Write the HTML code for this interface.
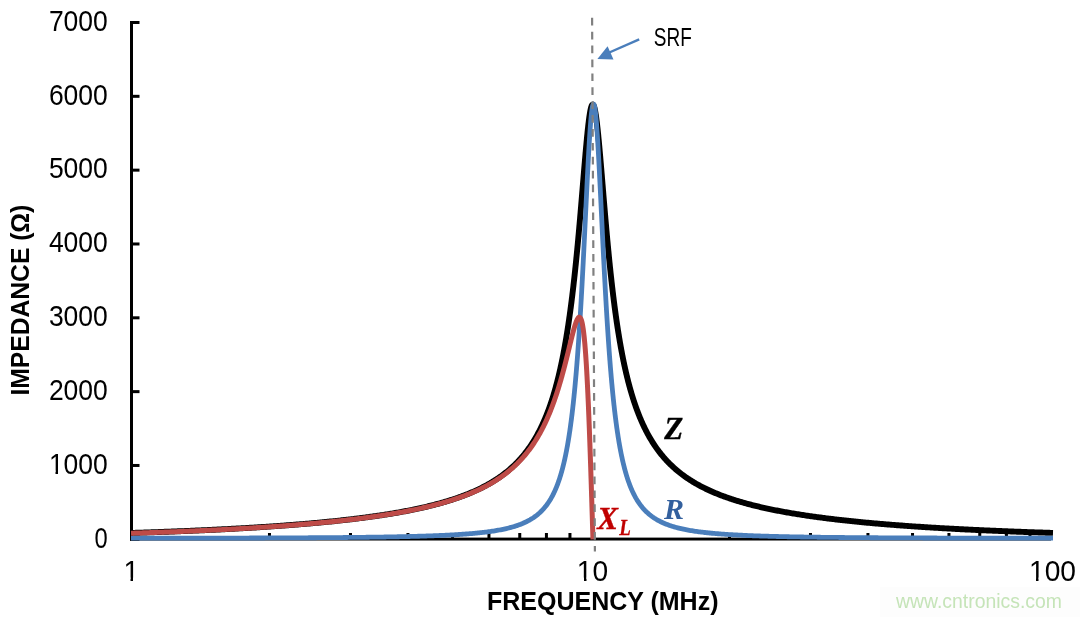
<!DOCTYPE html>
<html><head><meta charset="utf-8"><style>
html,body{margin:0;padding:0;background:#fff;width:1080px;height:617px;overflow:hidden}
svg{display:block}
.num{font-family:"Liberation Sans",sans-serif;font-size:29.5px;fill:#000}
.ttl{font-family:"Liberation Sans",sans-serif;font-size:25px;font-weight:bold;fill:#000}
.lbl{font-family:"Liberation Serif",serif;font-weight:bold;font-style:italic}
</style></head><body>
<svg width="1080" height="617" viewBox="0 0 1080 617" style="will-change:transform">
<rect x="0" y="0" width="1080" height="617" fill="#fff"/>
<rect x="880" y="587" width="200" height="30" fill="#fdfdfd"/>
<text x="896" y="607.5" style="font-family:'Liberation Sans',sans-serif;font-size:19.4px;fill:#c5e4b8">www.cntronics.com</text>
<rect x="130" y="21" width="3" height="519" fill="#000"/>
<rect x="130" y="537.6" width="921" height="2.9" fill="#000"/>
<rect x="130" y="537.80" width="9.5" height="3" fill="#000"/>
<text x="94.60" y="547.60" textLength="13.2" lengthAdjust="spacingAndGlyphs" class="num">0</text>
<rect x="130" y="463.97" width="9.5" height="3" fill="#000"/>
<text x="48.90" y="473.77" textLength="58.9" lengthAdjust="spacingAndGlyphs" class="num">1000</text>
<rect x="130" y="390.14" width="9.5" height="3" fill="#000"/>
<text x="48.90" y="399.94" textLength="58.9" lengthAdjust="spacingAndGlyphs" class="num">2000</text>
<rect x="130" y="316.31" width="9.5" height="3" fill="#000"/>
<text x="48.90" y="326.11" textLength="58.9" lengthAdjust="spacingAndGlyphs" class="num">3000</text>
<rect x="130" y="242.48" width="9.5" height="3" fill="#000"/>
<text x="48.90" y="252.28" textLength="58.9" lengthAdjust="spacingAndGlyphs" class="num">4000</text>
<rect x="130" y="168.65" width="9.5" height="3" fill="#000"/>
<text x="48.90" y="178.45" textLength="58.9" lengthAdjust="spacingAndGlyphs" class="num">5000</text>
<rect x="130" y="94.82" width="9.5" height="3" fill="#000"/>
<text x="48.90" y="104.62" textLength="58.9" lengthAdjust="spacingAndGlyphs" class="num">6000</text>
<rect x="130" y="20.99" width="9.5" height="3" fill="#000"/>
<text x="48.90" y="30.79" textLength="58.9" lengthAdjust="spacingAndGlyphs" class="num">7000</text>
<rect x="267.97" y="533" width="3" height="7" fill="#000"/>
<rect x="348.98" y="533" width="3" height="7" fill="#000"/>
<rect x="406.45" y="533" width="3" height="7" fill="#000"/>
<rect x="451.03" y="533" width="3" height="7" fill="#000"/>
<rect x="487.45" y="533" width="3" height="7" fill="#000"/>
<rect x="518.25" y="533" width="3" height="7" fill="#000"/>
<rect x="544.92" y="533" width="3" height="7" fill="#000"/>
<rect x="568.45" y="533" width="3" height="7" fill="#000"/>
<rect x="727.97" y="533" width="3" height="7" fill="#000"/>
<rect x="808.98" y="533" width="3" height="7" fill="#000"/>
<rect x="866.45" y="533" width="3" height="7" fill="#000"/>
<rect x="911.03" y="533" width="3" height="7" fill="#000"/>
<rect x="947.45" y="533" width="3" height="7" fill="#000"/>
<rect x="978.25" y="533" width="3" height="7" fill="#000"/>
<rect x="1004.92" y="533" width="3" height="7" fill="#000"/>
<rect x="1028.45" y="533" width="3" height="7" fill="#000"/>

<path d="M131.00,532.96 L132.20,532.92 L133.40,532.88 L134.60,532.85 L135.80,532.81 L137.00,532.77 L138.20,532.73 L139.40,532.69 L140.60,532.65 L141.80,532.62 L143.00,532.58 L144.20,532.54 L145.40,532.50 L146.61,532.46 L147.81,532.42 L149.01,532.38 L150.21,532.34 L151.41,532.29 L152.61,532.25 L153.81,532.21 L155.01,532.17 L156.21,532.13 L157.41,532.08 L158.61,532.04 L159.81,532.00 L161.01,531.96 L162.21,531.91 L163.41,531.87 L164.61,531.82 L165.81,531.78 L167.01,531.73 L168.21,531.69 L169.41,531.64 L170.61,531.60 L171.81,531.55 L173.01,531.51 L174.21,531.46 L175.41,531.41 L176.61,531.37 L177.81,531.32 L179.01,531.27 L180.21,531.22 L181.41,531.17 L182.61,531.13 L183.81,531.08 L185.01,531.03 L186.21,530.98 L187.41,530.93 L188.61,530.88 L189.81,530.83 L191.01,530.78 L192.21,530.72 L193.41,530.67 L194.61,530.62 L195.81,530.57 L197.01,530.52 L198.21,530.46 L199.41,530.41 L200.61,530.35 L201.81,530.30 L203.01,530.25 L204.21,530.19 L205.41,530.14 L206.61,530.08 L207.81,530.02 L209.01,529.97 L210.21,529.91 L211.41,529.85 L212.61,529.80 L213.81,529.74 L215.01,529.68 L216.21,529.62 L217.40,529.56 L218.60,529.50 L219.80,529.44 L221.00,529.38 L222.20,529.32 L223.40,529.26 L224.60,529.20 L225.80,529.14 L227.00,529.07 L228.20,529.01 L229.40,528.95 L230.60,528.88 L231.80,528.82 L233.00,528.75 L234.20,528.69 L235.40,528.62 L236.59,528.56 L237.79,528.49 L238.99,528.42 L240.19,528.36 L241.39,528.29 L242.59,528.22 L243.79,528.15 L244.99,528.08 L246.19,528.01 L247.39,527.94 L248.59,527.87 L249.78,527.80 L250.98,527.73 L252.18,527.66 L253.38,527.58 L254.58,527.51 L255.78,527.44 L256.98,527.36 L258.18,527.29 L259.37,527.21 L260.57,527.13 L261.77,527.06 L262.97,526.98 L264.17,526.90 L265.37,526.82 L266.56,526.74 L267.76,526.67 L268.96,526.58 L270.16,526.50 L271.36,526.42 L272.56,526.34 L273.75,526.26 L274.95,526.17 L276.15,526.09 L277.35,526.01 L278.55,525.92 L279.74,525.84 L280.94,525.75 L282.14,525.66 L283.34,525.57 L284.54,525.49 L285.73,525.40 L286.93,525.31 L288.13,525.22 L289.33,525.13 L290.52,525.03 L291.72,524.94 L292.92,524.85 L294.12,524.75 L295.31,524.66 L296.51,524.56 L297.71,524.47 L298.90,524.37 L300.10,524.27 L301.30,524.18 L302.50,524.08 L303.69,523.98 L304.89,523.88 L306.09,523.77 L307.28,523.67 L308.48,523.57 L309.68,523.46 L310.87,523.36 L312.07,523.25 L313.26,523.15 L314.46,523.04 L315.66,522.93 L316.85,522.82 L318.05,522.71 L319.25,522.60 L320.44,522.49 L321.64,522.37 L322.83,522.26 L324.03,522.15 L325.22,522.03 L326.42,521.91 L327.61,521.80 L328.81,521.68 L330.00,521.56 L331.20,521.44 L332.39,521.31 L333.59,521.19 L334.78,521.07 L335.98,520.94 L337.17,520.82 L338.37,520.69 L339.56,520.56 L340.75,520.43 L341.95,520.30 L343.14,520.17 L344.34,520.03 L345.53,519.90 L346.72,519.77 L347.92,519.63 L349.11,519.49 L350.30,519.35 L351.49,519.21 L352.69,519.07 L353.88,518.93 L355.07,518.78 L356.26,518.64 L357.46,518.49 L358.65,518.34 L359.84,518.19 L361.03,518.04 L362.22,517.89 L363.41,517.73 L364.60,517.58 L365.79,517.42 L366.98,517.26 L368.18,517.10 L369.37,516.94 L370.56,516.78 L371.74,516.61 L372.93,516.45 L374.12,516.28 L375.31,516.11 L376.50,515.94 L377.69,515.76 L378.88,515.59 L380.07,515.41 L381.25,515.23 L382.44,515.05 L383.63,514.87 L384.81,514.69 L386.00,514.50 L387.19,514.31 L388.37,514.12 L389.56,513.93 L390.74,513.74 L391.93,513.54 L393.11,513.34 L394.30,513.14 L395.48,512.94 L396.67,512.74 L397.85,512.53 L399.03,512.32 L400.21,512.11 L401.39,511.90 L402.58,511.68 L403.76,511.46 L404.94,511.24 L406.12,511.02 L407.30,510.79 L408.48,510.56 L409.66,510.33 L410.83,510.10 L412.01,509.86 L413.19,509.62 L414.36,509.38 L415.54,509.13 L416.71,508.89 L417.89,508.64 L419.06,508.38 L420.24,508.13 L421.41,507.87 L422.58,507.60 L423.75,507.34 L424.92,507.07 L426.09,506.79 L427.26,506.52 L428.43,506.24 L429.60,505.95 L430.76,505.67 L431.93,505.38 L433.09,505.08 L434.26,504.78 L435.42,504.48 L436.58,504.18 L437.74,503.87 L438.90,503.55 L440.06,503.24 L441.21,502.91 L442.37,502.59 L443.52,502.26 L444.68,501.92 L445.83,501.58 L446.98,501.24 L448.13,500.89 L449.28,500.54 L450.42,500.18 L451.57,499.82 L452.71,499.45 L453.85,499.07 L454.99,498.70 L456.13,498.31 L457.27,497.92 L458.40,497.53 L459.53,497.13 L460.66,496.72 L461.79,496.31 L462.92,495.89 L464.04,495.47 L465.16,495.04 L466.28,494.60 L467.40,494.16 L468.51,493.71 L469.63,493.26 L470.73,492.80 L471.84,492.33 L472.94,491.85 L474.04,491.37 L475.14,490.88 L476.23,490.38 L477.32,489.88 L478.41,489.37 L479.49,488.85 L480.57,488.33 L481.65,487.79 L482.72,487.25 L483.79,486.70 L484.85,486.14 L485.91,485.58 L486.97,485.01 L488.02,484.42 L489.07,483.83 L490.11,483.23 L491.14,482.63 L492.17,482.01 L493.20,481.39 L494.22,480.75 L495.23,480.11 L496.24,479.46 L497.25,478.80 L498.24,478.13 L499.23,477.45 L500.22,476.76 L501.20,476.07 L502.17,475.36 L503.13,474.64 L504.09,473.92 L505.04,473.19 L505.99,472.44 L506.92,471.69 L507.85,470.93 L508.77,470.16 L509.68,469.38 L510.59,468.59 L511.49,467.79 L512.37,466.98 L513.26,466.16 L514.13,465.34 L514.99,464.50 L515.85,463.66 L516.69,462.81 L517.53,461.95 L518.36,461.08 L519.18,460.20 L519.99,459.31 L520.79,458.42 L521.58,457.52 L522.36,456.60 L523.14,455.69 L523.90,454.76 L524.66,453.83 L525.40,452.88 L526.14,451.94 L526.87,450.98 L527.59,450.02 L528.29,449.05 L528.99,448.07 L529.68,447.09 L530.36,446.10 L531.04,445.10 L531.70,444.10 L532.35,443.09 L533.00,442.08 L533.63,441.06 L534.26,440.04 L534.88,439.01 L535.49,437.97 L536.09,436.93 L536.68,435.89 L537.26,434.84 L537.84,433.78 L538.41,432.73 L538.96,431.66 L539.52,430.60 L540.06,429.52 L540.59,428.45 L541.12,427.37 L541.64,426.29 L542.15,425.20 L542.66,424.11 L543.15,423.02 L543.64,421.92 L544.13,420.82 L544.60,419.72 L545.07,418.61 L545.54,417.51 L545.99,416.39 L546.44,415.28 L546.88,414.16 L547.32,413.04 L547.75,411.92 L548.17,410.80 L548.59,409.67 L549.01,408.55 L549.41,407.42 L549.81,406.28 L550.21,405.15 L550.60,404.01 L550.98,402.88 L551.36,401.74 L551.74,400.60 L552.10,399.45 L552.47,398.31 L552.83,397.16 L553.18,396.01 L553.53,394.86 L553.87,393.71 L554.21,392.56 L554.55,391.41 L554.88,390.25 L555.21,389.10 L555.53,387.94 L555.85,386.78 L556.16,385.62 L556.47,384.46 L556.78,383.30 L557.08,382.14 L557.38,380.98 L557.68,379.81 L557.97,378.65 L558.26,377.48 L558.54,376.32 L558.82,375.15 L559.10,373.98 L559.37,372.81 L559.64,371.64 L559.91,370.47 L560.18,369.30 L560.44,368.13 L560.70,366.95 L560.95,365.78 L561.20,364.61 L561.45,363.43 L561.70,362.25 L561.94,361.08 L562.18,359.90 L562.42,358.73 L562.66,357.55 L562.89,356.37 L563.12,355.19 L563.35,354.01 L563.58,352.83 L563.80,351.65 L564.02,350.47 L564.24,349.29 L564.46,348.11 L564.67,346.93 L564.88,345.75 L565.09,344.56 L565.30,343.38 L565.51,342.20 L565.71,341.01 L565.91,339.83 L566.11,338.65 L566.31,337.46 L566.51,336.28 L566.70,335.09 L566.89,333.90 L567.08,332.72 L567.27,331.53 L567.46,330.35 L567.64,329.16 L567.83,327.97 L568.01,326.79 L568.19,325.60 L568.37,324.41 L568.54,323.22 L568.72,322.03 L568.89,320.85 L569.06,319.66 L569.23,318.47 L569.40,317.28 L569.57,316.09 L569.74,314.90 L569.90,313.71 L570.07,312.52 L570.23,311.33 L570.39,310.14 L570.55,308.95 L570.71,307.76 L570.86,306.57 L571.02,305.38 L571.17,304.19 L571.33,303.00 L571.48,301.80 L571.63,300.61 L571.78,299.42 L571.93,298.23 L572.08,297.04 L572.22,295.85 L572.37,294.65 L572.51,293.46 L572.65,292.27 L572.80,291.08 L572.94,289.88 L573.08,288.69 L573.22,287.50 L573.36,286.31 L573.49,285.11 L573.63,283.92 L573.76,282.73 L573.90,281.53 L574.03,280.34 L574.17,279.14 L574.30,277.95 L574.43,276.76 L574.56,275.56 L574.69,274.37 L574.82,273.18 L574.95,271.98 L575.07,270.79 L575.20,269.59 L575.32,268.40 L575.45,267.20 L575.57,266.01 L575.70,264.81 L575.82,263.62 L575.94,262.42 L576.06,261.23 L576.18,260.03 L576.30,258.84 L576.42,257.64 L576.54,256.45 L576.66,255.25 L576.78,254.06 L576.89,252.86 L577.01,251.67 L577.13,250.47 L577.24,249.28 L577.36,248.08 L577.47,246.89 L577.58,245.69 L577.70,244.50 L577.81,243.30 L577.92,242.10 L578.03,240.91 L578.14,239.71 L578.25,238.52 L578.36,237.32 L578.47,236.12 L578.58,234.93 L578.69,233.73 L578.80,232.54 L578.91,231.34 L579.01,230.14 L579.12,228.95 L579.23,227.75 L579.33,226.55 L579.44,225.36 L579.55,224.16 L579.65,222.97 L579.76,221.77 L579.86,220.57 L579.96,219.38 L580.07,218.18 L580.17,216.98 L580.27,215.79 L580.38,214.59 L580.48,213.39 L580.58,212.20 L580.68,211.00 L580.79,209.80 L580.89,208.61 L580.99,207.41 L581.09,206.21 L581.19,205.02 L581.29,203.82 L581.39,202.62 L581.49,201.43 L581.59,200.23 L581.69,199.03 L581.79,197.84 L581.89,196.64 L581.99,195.44 L582.09,194.25 L582.19,193.05 L582.29,191.85 L582.39,190.65 L582.49,189.46 L582.59,188.26 L582.69,187.06 L582.79,185.87 L582.89,184.67 L582.99,183.47 L583.09,182.28 L583.19,181.08 L583.29,179.88 L583.38,178.69 L583.48,177.49 L583.58,176.29 L583.68,175.09 L583.78,173.90 L583.88,172.70 L583.98,171.50 L584.08,170.31 L584.18,169.11 L584.28,167.91 L584.38,166.72 L584.49,165.52 L584.59,164.32 L584.69,163.13 L584.79,161.93 L584.89,160.73 L584.99,159.54 L585.10,158.34 L585.20,157.14 L585.30,155.95 L585.41,154.75 L585.51,153.55 L585.62,152.36 L585.73,151.16 L585.83,149.97 L585.94,148.77 L586.05,147.57 L586.16,146.38 L586.27,145.18 L586.38,143.98 L586.49,142.79 L586.60,141.59 L586.71,140.40 L586.83,139.20 L586.94,138.01 L587.06,136.81 L587.18,135.62 L587.30,134.42 L587.42,133.23 L587.54,132.03 L587.67,130.84 L587.80,129.64 L587.92,128.45 L588.06,127.26 L588.19,126.06 L588.33,124.87 L588.47,123.68 L588.61,122.48 L588.76,121.29 L588.91,120.10 L589.07,118.91 L589.23,117.72 L589.40,116.53 L589.57,115.34 L589.76,114.16 L589.95,112.97 L590.16,111.79 L590.38,110.61 L590.62,109.43 L590.90,108.26 L591.21,107.10 L591.59,105.96 L592.14,104.90 L593.15,104.71 L593.77,105.72 L594.18,106.85 L594.50,108.01 L594.78,109.18 L595.03,110.35 L595.25,111.53 L595.46,112.71 L595.66,113.90 L595.85,115.09 L596.03,116.27 L596.20,117.46 L596.36,118.65 L596.52,119.84 L596.67,121.03 L596.82,122.23 L596.96,123.42 L597.10,124.61 L597.24,125.80 L597.38,127.00 L597.51,128.19 L597.64,129.38 L597.76,130.58 L597.89,131.77 L598.01,132.97 L598.14,134.16 L598.26,135.36 L598.37,136.55 L598.49,137.75 L598.61,138.94 L598.72,140.14 L598.84,141.33 L598.95,142.53 L599.06,143.73 L599.17,144.92 L599.28,146.12 L599.39,147.31 L599.50,148.51 L599.61,149.71 L599.71,150.90 L599.82,152.10 L599.92,153.30 L600.03,154.49 L600.13,155.69 L600.24,156.88 L600.34,158.08 L600.44,159.28 L600.55,160.47 L600.65,161.67 L600.75,162.87 L600.85,164.06 L600.95,165.26 L601.05,166.46 L601.15,167.65 L601.26,168.85 L601.36,170.05 L601.46,171.25 L601.56,172.44 L601.66,173.64 L601.76,174.84 L601.86,176.03 L601.95,177.23 L602.05,178.43 L602.15,179.62 L602.25,180.82 L602.35,182.02 L602.45,183.21 L602.55,184.41 L602.65,185.61 L602.75,186.80 L602.85,188.00 L602.95,189.20 L603.05,190.40 L603.15,191.59 L603.25,192.79 L603.34,193.99 L603.44,195.18 L603.54,196.38 L603.64,197.58 L603.74,198.77 L603.84,199.97 L603.94,201.17 L604.04,202.36 L604.15,203.56 L604.25,204.76 L604.35,205.95 L604.45,207.15 L604.55,208.35 L604.65,209.54 L604.75,210.74 L604.86,211.94 L604.96,213.13 L605.06,214.33 L605.16,215.53 L605.27,216.72 L605.37,217.92 L605.47,219.12 L605.58,220.31 L605.68,221.51 L605.79,222.71 L605.89,223.90 L606.00,225.10 L606.10,226.30 L606.21,227.49 L606.32,228.69 L606.42,229.88 L606.53,231.08 L606.64,232.28 L606.75,233.47 L606.85,234.67 L606.96,235.87 L607.07,237.06 L607.18,238.26 L607.29,239.45 L607.40,240.65 L607.52,241.85 L607.63,243.04 L607.74,244.24 L607.85,245.43 L607.97,246.63 L608.08,247.82 L608.19,249.02 L608.31,250.21 L608.43,251.41 L608.54,252.61 L608.66,253.80 L608.78,255.00 L608.89,256.19 L609.01,257.39 L609.13,258.58 L609.25,259.78 L609.37,260.97 L609.49,262.17 L609.61,263.36 L609.74,264.56 L609.86,265.75 L609.98,266.95 L610.11,268.14 L610.23,269.33 L610.36,270.53 L610.49,271.72 L610.61,272.92 L610.74,274.11 L610.87,275.31 L611.00,276.50 L611.13,277.69 L611.27,278.89 L611.40,280.08 L611.53,281.27 L611.67,282.47 L611.80,283.66 L611.94,284.85 L612.07,286.05 L612.21,287.24 L612.35,288.43 L612.49,289.63 L612.63,290.82 L612.77,292.01 L612.92,293.20 L613.06,294.40 L613.21,295.59 L613.35,296.78 L613.50,297.97 L613.65,299.16 L613.80,300.36 L613.95,301.55 L614.10,302.74 L614.25,303.93 L614.41,305.12 L614.56,306.31 L614.72,307.50 L614.88,308.69 L615.04,309.88 L615.20,311.07 L615.36,312.26 L615.52,313.45 L615.69,314.64 L615.85,315.83 L616.02,317.02 L616.19,318.21 L616.36,319.40 L616.53,320.59 L616.70,321.78 L616.88,322.97 L617.06,324.15 L617.23,325.34 L617.41,326.53 L617.59,327.72 L617.78,328.90 L617.96,330.09 L618.15,331.28 L618.34,332.46 L618.53,333.65 L618.72,334.83 L618.91,336.02 L619.11,337.20 L619.30,338.39 L619.50,339.57 L619.70,340.76 L619.91,341.94 L620.11,343.12 L620.32,344.31 L620.53,345.49 L620.74,346.67 L620.96,347.85 L621.17,349.04 L621.39,350.22 L621.61,351.40 L621.83,352.58 L622.06,353.76 L622.29,354.94 L622.52,356.11 L622.75,357.29 L622.99,358.47 L623.22,359.65 L623.46,360.82 L623.71,362.00 L623.95,363.18 L624.20,364.35 L624.45,365.53 L624.71,366.70 L624.97,367.87 L625.23,369.04 L625.49,370.22 L625.76,371.39 L626.03,372.56 L626.30,373.73 L626.58,374.90 L626.86,376.06 L627.14,377.23 L627.43,378.40 L627.72,379.56 L628.01,380.73 L628.31,381.89 L628.61,383.05 L628.92,384.21 L629.23,385.37 L629.54,386.53 L629.86,387.69 L630.18,388.85 L630.51,390.00 L630.84,391.16 L631.17,392.31 L631.51,393.47 L631.86,394.62 L632.20,395.77 L632.56,396.91 L632.91,398.06 L633.28,399.20 L633.64,400.35 L634.02,401.49 L634.40,402.63 L634.78,403.77 L635.17,404.90 L635.56,406.04 L635.96,407.17 L636.37,408.30 L636.78,409.43 L637.19,410.56 L637.62,411.68 L638.05,412.80 L638.48,413.92 L638.92,415.04 L639.37,416.15 L639.83,417.27 L640.29,418.37 L640.75,419.48 L641.23,420.58 L641.71,421.68 L642.20,422.78 L642.69,423.87 L643.20,424.97 L643.71,426.05 L644.23,427.14 L644.75,428.22 L645.29,429.29 L645.83,430.36 L646.38,431.43 L646.93,432.50 L647.50,433.56 L648.07,434.61 L648.65,435.66 L649.24,436.71 L649.84,437.75 L650.45,438.78 L651.07,439.82 L651.69,440.84 L652.33,441.86 L652.97,442.88 L653.62,443.88 L654.28,444.89 L654.95,445.88 L655.63,446.88 L656.32,447.86 L657.01,448.84 L657.72,449.81 L658.44,450.77 L659.16,451.73 L659.90,452.68 L660.64,453.62 L661.39,454.56 L662.16,455.49 L662.93,456.41 L663.71,457.32 L664.50,458.22 L665.30,459.12 L666.11,460.01 L666.92,460.89 L667.75,461.76 L668.59,462.62 L669.43,463.48 L670.28,464.32 L671.15,465.16 L672.02,465.99 L672.89,466.81 L673.78,467.61 L674.68,468.42 L675.58,469.21 L676.49,469.99 L677.41,470.76 L678.34,471.53 L679.27,472.28 L680.21,473.03 L681.16,473.76 L682.12,474.49 L683.08,475.21 L684.05,475.91 L685.03,476.61 L686.01,477.30 L687.00,477.98 L688.00,478.65 L689.00,479.32 L690.01,479.97 L691.02,480.61 L692.04,481.25 L693.06,481.88 L694.09,482.49 L695.13,483.10 L696.17,483.70 L697.21,484.30 L698.26,484.88 L699.32,485.46 L700.38,486.02 L701.44,486.58 L702.51,487.13 L703.58,487.68 L704.65,488.21 L705.73,488.74 L706.81,489.26 L707.90,489.77 L708.99,490.28 L710.08,490.77 L711.18,491.27 L712.28,491.75 L713.38,492.23 L714.49,492.70 L715.59,493.16 L716.71,493.61 L717.82,494.06 L718.93,494.51 L720.05,494.95 L721.17,495.38 L722.30,495.80 L723.42,496.22 L724.55,496.63 L725.68,497.04 L726.81,497.44 L727.95,497.84 L729.08,498.23 L730.22,498.61 L731.36,498.99 L732.50,499.37 L733.64,499.74 L734.79,500.10 L735.93,500.46 L737.08,500.81 L738.23,501.16 L739.38,501.51 L740.53,501.85 L741.69,502.19 L742.84,502.52 L744.00,502.84 L745.15,503.17 L746.31,503.49 L747.47,503.80 L748.63,504.11 L749.79,504.42 L750.95,504.72 L752.12,505.02 L753.28,505.31 L754.45,505.60 L755.61,505.89 L756.78,506.18 L757.95,506.46 L759.12,506.73 L760.28,507.01 L761.45,507.28 L762.63,507.54 L763.80,507.81 L764.97,508.07 L766.14,508.33 L767.32,508.58 L768.49,508.83 L769.67,509.08 L770.84,509.33 L772.02,509.57 L773.19,509.81 L774.37,510.05 L775.55,510.28 L776.73,510.51 L777.91,510.74 L779.09,510.97 L780.27,511.19 L781.45,511.41 L782.63,511.63 L783.81,511.85 L784.99,512.06 L786.17,512.27 L787.36,512.48 L788.54,512.69 L789.72,512.90 L790.91,513.10 L792.09,513.30 L793.27,513.50 L794.46,513.70 L795.64,513.89 L796.83,514.08 L798.02,514.27 L799.20,514.46 L800.39,514.65 L801.58,514.83 L802.76,515.01 L803.95,515.19 L805.14,515.37 L806.33,515.55 L807.51,515.73 L808.70,515.90 L809.89,516.07 L811.08,516.24 L812.27,516.41 L813.46,516.58 L814.65,516.74 L815.84,516.91 L817.03,517.07 L818.22,517.23 L819.41,517.39 L820.60,517.54 L821.79,517.70 L822.98,517.85 L824.17,518.01 L825.36,518.16 L826.56,518.31 L827.75,518.46 L828.94,518.60 L830.13,518.75 L831.32,518.90 L832.52,519.04 L833.71,519.18 L834.90,519.32 L836.09,519.46 L837.29,519.60 L838.48,519.74 L839.67,519.87 L840.87,520.01 L842.06,520.14 L843.25,520.27 L844.45,520.40 L845.64,520.53 L846.84,520.66 L848.03,520.79 L849.22,520.91 L850.42,521.04 L851.61,521.16 L852.81,521.29 L854.00,521.41 L855.20,521.53 L856.39,521.65 L857.59,521.77 L858.78,521.89 L859.98,522.00 L861.17,522.12 L862.37,522.24 L863.57,522.35 L864.76,522.46 L865.96,522.58 L867.15,522.69 L868.35,522.80 L869.54,522.91 L870.74,523.02 L871.94,523.12 L873.13,523.23 L874.33,523.34 L875.53,523.44 L876.72,523.55 L877.92,523.65 L879.12,523.75 L880.31,523.85 L881.51,523.95 L882.71,524.05 L883.90,524.15 L885.10,524.25 L886.30,524.35 L887.49,524.45 L888.69,524.54 L889.89,524.64 L891.08,524.73 L892.28,524.83 L893.48,524.92 L894.68,525.01 L895.87,525.11 L897.07,525.20 L898.27,525.29 L899.47,525.38 L900.66,525.47 L901.86,525.56 L903.06,525.64 L904.26,525.73 L905.46,525.82 L906.65,525.90 L907.85,525.99 L909.05,526.07 L910.25,526.16 L911.45,526.24 L912.64,526.32 L913.84,526.41 L915.04,526.49 L916.24,526.57 L917.44,526.65 L918.64,526.73 L919.83,526.81 L921.03,526.89 L922.23,526.96 L923.43,527.04 L924.63,527.12 L925.83,527.19 L927.03,527.27 L928.22,527.34 L929.42,527.42 L930.62,527.49 L931.82,527.57 L933.02,527.64 L934.22,527.71 L935.42,527.78 L936.62,527.86 L937.81,527.93 L939.01,528.00 L940.21,528.07 L941.41,528.14 L942.61,528.21 L943.81,528.27 L945.01,528.34 L946.21,528.41 L947.41,528.48 L948.61,528.54 L949.81,528.61 L951.00,528.68 L952.20,528.74 L953.40,528.81 L954.60,528.87 L955.80,528.93 L957.00,529.00 L958.20,529.06 L959.40,529.12 L960.60,529.19 L961.80,529.25 L963.00,529.31 L964.20,529.37 L965.40,529.43 L966.60,529.49 L967.80,529.55 L969.00,529.61 L970.19,529.67 L971.39,529.73 L972.59,529.78 L973.79,529.84 L974.99,529.90 L976.19,529.96 L977.39,530.01 L978.59,530.07 L979.79,530.12 L980.99,530.18 L982.19,530.23 L983.39,530.29 L984.59,530.34 L985.79,530.40 L986.99,530.45 L988.19,530.50 L989.39,530.56 L990.59,530.61 L991.79,530.66 L992.99,530.71 L994.19,530.76 L995.39,530.82 L996.59,530.87 L997.79,530.92 L998.99,530.97 L1000.19,531.02 L1001.39,531.07 L1002.59,531.11 L1003.79,531.16 L1004.99,531.21 L1006.19,531.26 L1007.39,531.31 L1008.59,531.36 L1009.79,531.40 L1010.99,531.45 L1012.19,531.50 L1013.39,531.54 L1014.59,531.59 L1015.79,531.63 L1016.99,531.68 L1018.19,531.72 L1019.39,531.77 L1020.59,531.81 L1021.79,531.86 L1022.99,531.90 L1024.19,531.95 L1025.39,531.99 L1026.59,532.03 L1027.79,532.08 L1028.99,532.12 L1030.19,532.16 L1031.39,532.20 L1032.59,532.24 L1033.79,532.29 L1034.99,532.33 L1036.19,532.37 L1037.40,532.41 L1038.60,532.45 L1039.80,532.49 L1041.00,532.53 L1042.20,532.57 L1043.40,532.61 L1044.60,532.65 L1045.80,532.69 L1047.00,532.72 L1048.20,532.76 L1049.40,532.80 L1050.60,532.84 L1051.80,532.88 L1053.00,532.91" fill="none" stroke="#000" stroke-width="5.9" stroke-linejoin="round"/>
<path d="M131.00,538.22 L132.20,538.22 L133.40,538.22 L134.60,538.22 L135.80,538.22 L137.00,538.21 L138.21,538.21 L139.41,538.21 L140.61,538.21 L141.81,538.21 L143.01,538.21 L144.21,538.21 L145.41,538.21 L146.61,538.21 L147.81,538.20 L149.01,538.20 L150.22,538.20 L151.42,538.20 L152.62,538.20 L153.82,538.20 L155.02,538.20 L156.22,538.20 L157.42,538.19 L158.62,538.19 L159.82,538.19 L161.02,538.19 L162.23,538.19 L163.43,538.19 L164.63,538.19 L165.83,538.19 L167.03,538.18 L168.23,538.18 L169.43,538.18 L170.63,538.18 L171.83,538.18 L173.03,538.18 L174.24,538.17 L175.44,538.17 L176.64,538.17 L177.84,538.17 L179.04,538.17 L180.24,538.17 L181.44,538.17 L182.64,538.16 L183.84,538.16 L185.04,538.16 L186.25,538.16 L187.45,538.16 L188.65,538.15 L189.85,538.15 L191.05,538.15 L192.25,538.15 L193.45,538.15 L194.65,538.15 L195.85,538.14 L197.05,538.14 L198.26,538.14 L199.46,538.14 L200.66,538.14 L201.86,538.13 L203.06,538.13 L204.26,538.13 L205.46,538.13 L206.66,538.12 L207.86,538.12 L209.06,538.12 L210.27,538.12 L211.47,538.12 L212.67,538.11 L213.87,538.11 L215.07,538.11 L216.27,538.11 L217.47,538.10 L218.67,538.10 L219.87,538.10 L221.07,538.10 L222.28,538.09 L223.48,538.09 L224.68,538.09 L225.88,538.09 L227.08,538.08 L228.28,538.08 L229.48,538.08 L230.68,538.07 L231.88,538.07 L233.08,538.07 L234.29,538.07 L235.49,538.06 L236.69,538.06 L237.89,538.06 L239.09,538.05 L240.29,538.05 L241.49,538.05 L242.69,538.04 L243.89,538.04 L245.09,538.04 L246.30,538.03 L247.50,538.03 L248.70,538.03 L249.90,538.02 L251.10,538.02 L252.30,538.02 L253.50,538.01 L254.70,538.01 L255.90,538.01 L257.10,538.00 L258.31,538.00 L259.51,537.99 L260.71,537.99 L261.91,537.99 L263.11,537.98 L264.31,537.98 L265.51,537.97 L266.71,537.97 L267.91,537.96 L269.11,537.96 L270.32,537.96 L271.52,537.95 L272.72,537.95 L273.92,537.94 L275.12,537.94 L276.32,537.93 L277.52,537.93 L278.72,537.92 L279.92,537.92 L281.12,537.91 L282.33,537.91 L283.53,537.90 L284.73,537.90 L285.93,537.89 L287.13,537.89 L288.33,537.88 L289.53,537.88 L290.73,537.87 L291.93,537.86 L293.13,537.86 L294.34,537.85 L295.54,537.85 L296.74,537.84 L297.94,537.83 L299.14,537.83 L300.34,537.82 L301.54,537.81 L302.74,537.81 L303.94,537.80 L305.14,537.80 L306.35,537.79 L307.55,537.78 L308.75,537.77 L309.95,537.77 L311.15,537.76 L312.35,537.75 L313.55,537.75 L314.75,537.74 L315.95,537.73 L317.15,537.72 L318.35,537.71 L319.56,537.71 L320.76,537.70 L321.96,537.69 L323.16,537.68 L324.36,537.67 L325.56,537.66 L326.76,537.66 L327.96,537.65 L329.16,537.64 L330.36,537.63 L331.57,537.62 L332.77,537.61 L333.97,537.60 L335.17,537.59 L336.37,537.58 L337.57,537.57 L338.77,537.56 L339.97,537.55 L341.17,537.54 L342.37,537.53 L343.58,537.52 L344.78,537.50 L345.98,537.49 L347.18,537.48 L348.38,537.47 L349.58,537.46 L350.78,537.45 L351.98,537.43 L353.18,537.42 L354.38,537.41 L355.58,537.40 L356.79,537.38 L357.99,537.37 L359.19,537.36 L360.39,537.34 L361.59,537.33 L362.79,537.31 L363.99,537.30 L365.19,537.28 L366.39,537.27 L367.59,537.25 L368.79,537.24 L370.00,537.22 L371.20,537.21 L372.40,537.19 L373.60,537.17 L374.80,537.16 L376.00,537.14 L377.20,537.12 L378.40,537.10 L379.60,537.08 L380.80,537.07 L382.00,537.05 L383.20,537.03 L384.41,537.01 L385.61,536.99 L386.81,536.97 L388.01,536.95 L389.21,536.92 L390.41,536.90 L391.61,536.88 L392.81,536.86 L394.01,536.84 L395.21,536.81 L396.41,536.79 L397.61,536.77 L398.82,536.74 L400.02,536.72 L401.22,536.69 L402.42,536.66 L403.62,536.64 L404.82,536.61 L406.02,536.58 L407.22,536.55 L408.42,536.52 L409.62,536.50 L410.82,536.47 L412.02,536.43 L413.22,536.40 L414.42,536.37 L415.62,536.34 L416.82,536.31 L418.03,536.27 L419.23,536.24 L420.43,536.20 L421.63,536.16 L422.83,536.13 L424.03,536.09 L425.23,536.05 L426.43,536.01 L427.63,535.97 L428.83,535.93 L430.03,535.89 L431.23,535.84 L432.43,535.80 L433.63,535.75 L434.83,535.71 L436.03,535.66 L437.23,535.61 L438.43,535.56 L439.63,535.51 L440.83,535.46 L442.03,535.41 L443.23,535.35 L444.43,535.30 L445.63,535.24 L446.83,535.18 L448.03,535.12 L449.23,535.06 L450.43,535.00 L451.63,534.93 L452.82,534.86 L454.02,534.80 L455.22,534.73 L456.42,534.65 L457.62,534.58 L458.82,534.50 L460.02,534.43 L461.22,534.35 L462.41,534.26 L463.61,534.18 L464.81,534.09 L466.01,534.00 L467.21,533.91 L468.40,533.82 L469.60,533.72 L470.80,533.62 L471.99,533.52 L473.19,533.41 L474.39,533.30 L475.58,533.19 L476.78,533.07 L477.97,532.96 L479.17,532.83 L480.36,532.71 L481.55,532.58 L482.75,532.44 L483.94,532.30 L485.13,532.16 L486.32,532.01 L487.52,531.86 L488.71,531.70 L489.90,531.53 L491.09,531.36 L492.27,531.19 L493.46,531.01 L494.65,530.82 L495.83,530.63 L497.02,530.43 L498.20,530.22 L499.38,530.00 L500.56,529.78 L501.74,529.55 L502.92,529.31 L504.09,529.06 L505.26,528.80 L506.44,528.54 L507.60,528.26 L508.77,527.97 L509.93,527.67 L511.09,527.36 L512.25,527.04 L513.40,526.70 L514.55,526.36 L515.70,525.99 L516.84,525.62 L517.97,525.23 L519.10,524.82 L520.23,524.40 L521.35,523.96 L522.46,523.51 L523.56,523.03 L524.66,522.54 L525.75,522.03 L526.82,521.50 L527.89,520.95 L528.95,520.38 L530.00,519.80 L531.03,519.18 L532.05,518.55 L533.06,517.90 L534.05,517.23 L535.03,516.53 L536.00,515.81 L536.94,515.08 L537.87,514.32 L538.79,513.54 L539.68,512.74 L540.56,511.91 L541.42,511.07 L542.26,510.22 L543.08,509.34 L543.88,508.44 L544.66,507.53 L545.42,506.60 L546.16,505.66 L546.89,504.70 L547.59,503.73 L548.27,502.74 L548.94,501.74 L549.59,500.73 L550.22,499.71 L550.84,498.68 L551.43,497.64 L552.01,496.58 L552.58,495.52 L553.13,494.46 L553.66,493.38 L554.18,492.30 L554.69,491.21 L555.18,490.11 L555.66,489.01 L556.13,487.91 L556.58,486.79 L557.02,485.68 L557.46,484.56 L557.88,483.43 L558.28,482.30 L558.68,481.17 L559.07,480.03 L559.45,478.89 L559.82,477.75 L560.19,476.61 L560.54,475.46 L560.89,474.31 L561.22,473.16 L561.55,472.00 L561.88,470.84 L562.19,469.69 L562.50,468.52 L562.80,467.36 L563.10,466.20 L563.39,465.03 L563.67,463.87 L563.95,462.70 L564.22,461.53 L564.49,460.36 L564.75,459.18 L565.00,458.01 L565.26,456.84 L565.50,455.66 L565.75,454.49 L565.98,453.31 L566.22,452.13 L566.45,450.95 L566.67,449.77 L566.89,448.59 L567.11,447.41 L567.33,446.23 L567.54,445.05 L567.74,443.86 L567.95,442.68 L568.15,441.49 L568.34,440.31 L568.54,439.12 L568.73,437.94 L568.92,436.75 L569.10,435.57 L569.28,434.38 L569.46,433.19 L569.64,432.00 L569.82,430.82 L569.99,429.63 L570.16,428.44 L570.33,427.25 L570.49,426.06 L570.65,424.87 L570.81,423.68 L570.97,422.49 L571.13,421.30 L571.28,420.11 L571.44,418.92 L571.59,417.72 L571.73,416.53 L571.88,415.34 L572.03,414.15 L572.17,412.96 L572.31,411.76 L572.45,410.57 L572.59,409.38 L572.73,408.18 L572.86,406.99 L572.99,405.80 L573.13,404.60 L573.26,403.41 L573.38,402.22 L573.51,401.02 L573.64,399.83 L573.76,398.63 L573.89,397.44 L574.01,396.24 L574.13,395.05 L574.25,393.85 L574.37,392.66 L574.49,391.46 L574.60,390.27 L574.72,389.07 L574.83,387.88 L574.94,386.68 L575.06,385.48 L575.17,384.29 L575.28,383.09 L575.38,381.90 L575.49,380.70 L575.60,379.50 L575.70,378.31 L575.81,377.11 L575.91,375.91 L576.02,374.72 L576.12,373.52 L576.22,372.33 L576.32,371.13 L576.42,369.93 L576.52,368.73 L576.62,367.54 L576.71,366.34 L576.81,365.14 L576.90,363.95 L577.00,362.75 L577.09,361.55 L577.19,360.35 L577.28,359.16 L577.37,357.96 L577.46,356.76 L577.55,355.56 L577.64,354.37 L577.73,353.17 L577.82,351.97 L577.91,350.77 L577.99,349.58 L578.08,348.38 L578.17,347.18 L578.25,345.98 L578.34,344.78 L578.42,343.59 L578.51,342.39 L578.59,341.19 L578.67,339.99 L578.75,338.79 L578.84,337.59 L578.92,336.40 L579.00,335.20 L579.08,334.00 L579.16,332.80 L579.24,331.60 L579.32,330.40 L579.39,329.21 L579.47,328.01 L579.55,326.81 L579.63,325.61 L579.70,324.41 L579.78,323.21 L579.85,322.02 L579.93,320.82 L580.00,319.62 L580.08,318.42 L580.15,317.22 L580.22,316.02 L580.30,314.82 L580.37,313.62 L580.44,312.43 L580.52,311.23 L580.59,310.03 L580.66,308.83 L580.73,307.63 L580.80,306.43 L580.87,305.23 L580.94,304.03 L581.01,302.83 L581.08,301.64 L581.15,300.44 L581.22,299.24 L581.29,298.04 L581.35,296.84 L581.42,295.64 L581.49,294.44 L581.56,293.24 L581.62,292.04 L581.69,290.84 L581.76,289.64 L581.82,288.44 L581.89,287.25 L581.95,286.05 L582.02,284.85 L582.08,283.65 L582.15,282.45 L582.21,281.25 L582.28,280.05 L582.34,278.85 L582.41,277.65 L582.47,276.45 L582.53,275.25 L582.60,274.05 L582.66,272.85 L582.72,271.66 L582.79,270.46 L582.85,269.26 L582.91,268.06 L582.97,266.86 L583.04,265.66 L583.10,264.46 L583.16,263.26 L583.22,262.06 L583.28,260.86 L583.34,259.66 L583.40,258.46 L583.46,257.26 L583.53,256.06 L583.59,254.86 L583.65,253.66 L583.71,252.46 L583.77,251.26 L583.83,250.07 L583.89,248.87 L583.95,247.67 L584.01,246.47 L584.07,245.27 L584.12,244.07 L584.18,242.87 L584.24,241.67 L584.30,240.47 L584.36,239.27 L584.42,238.07 L584.48,236.87 L584.54,235.67 L584.60,234.47 L584.66,233.27 L584.71,232.07 L584.77,230.87 L584.83,229.67 L584.89,228.47 L584.95,227.27 L585.01,226.07 L585.06,224.87 L585.12,223.68 L585.18,222.48 L585.24,221.28 L585.30,220.08 L585.35,218.88 L585.41,217.68 L585.47,216.48 L585.53,215.28 L585.58,214.08 L585.64,212.88 L585.70,211.68 L585.76,210.48 L585.82,209.28 L585.87,208.08 L585.93,206.88 L585.99,205.68 L586.05,204.48 L586.11,203.28 L586.16,202.08 L586.22,200.88 L586.28,199.68 L586.34,198.48 L586.40,197.28 L586.46,196.08 L586.51,194.88 L586.57,193.69 L586.63,192.49 L586.69,191.29 L586.75,190.09 L586.81,188.89 L586.87,187.69 L586.93,186.49 L586.98,185.29 L587.04,184.09 L587.10,182.89 L587.16,181.69 L587.22,180.49 L587.28,179.29 L587.34,178.09 L587.40,176.89 L587.46,175.69 L587.52,174.49 L587.59,173.29 L587.65,172.09 L587.71,170.89 L587.77,169.70 L587.83,168.50 L587.89,167.30 L587.96,166.10 L588.02,164.90 L588.08,163.70 L588.15,162.50 L588.21,161.30 L588.27,160.10 L588.34,158.90 L588.40,157.70 L588.47,156.50 L588.53,155.30 L588.60,154.10 L588.67,152.91 L588.73,151.71 L588.80,150.51 L588.87,149.31 L588.94,148.11 L589.01,146.91 L589.08,145.71 L589.15,144.51 L589.22,143.31 L589.29,142.11 L589.37,140.92 L589.44,139.72 L589.52,138.52 L589.59,137.32 L589.67,136.12 L589.75,134.92 L589.82,133.72 L589.91,132.53 L589.99,131.33 L590.07,130.13 L590.15,128.93 L590.24,127.73 L590.33,126.54 L590.42,125.34 L590.51,124.14 L590.61,122.94 L590.70,121.75 L590.80,120.55 L590.91,119.35 L591.01,118.16 L591.12,116.96 L591.24,115.77 L591.36,114.57 L591.49,113.38 L591.62,112.18 L591.76,110.99 L591.92,109.80 L592.09,108.61 L592.28,107.43 L592.51,106.25 L592.79,105.08 L593.26,103.98 L594.06,104.46 L594.41,105.60 L594.66,106.78 L594.87,107.96 L595.05,109.15 L595.21,110.34 L595.36,111.53 L595.50,112.72 L595.63,113.92 L595.76,115.11 L595.87,116.31 L595.99,117.50 L596.10,118.70 L596.20,119.89 L596.30,121.09 L596.40,122.29 L596.50,123.48 L596.59,124.68 L596.68,125.88 L596.77,127.08 L596.86,128.28 L596.94,129.47 L597.03,130.67 L597.11,131.87 L597.19,133.07 L597.27,134.27 L597.35,135.46 L597.43,136.66 L597.50,137.86 L597.58,139.06 L597.65,140.26 L597.73,141.46 L597.80,142.66 L597.87,143.86 L597.94,145.05 L598.01,146.25 L598.08,147.45 L598.15,148.65 L598.22,149.85 L598.29,151.05 L598.36,152.25 L598.42,153.45 L598.49,154.65 L598.56,155.85 L598.62,157.04 L598.69,158.24 L598.75,159.44 L598.82,160.64 L598.88,161.84 L598.94,163.04 L599.01,164.24 L599.07,165.44 L599.13,166.64 L599.19,167.84 L599.26,169.04 L599.32,170.24 L599.38,171.44 L599.44,172.64 L599.50,173.84 L599.56,175.04 L599.62,176.23 L599.68,177.43 L599.74,178.63 L599.80,179.83 L599.86,181.03 L599.92,182.23 L599.98,183.43 L600.04,184.63 L600.10,185.83 L600.16,187.03 L600.22,188.23 L600.28,189.43 L600.34,190.63 L600.40,191.83 L600.46,193.03 L600.51,194.23 L600.57,195.43 L600.63,196.63 L600.69,197.83 L600.75,199.03 L600.81,200.23 L600.86,201.43 L600.92,202.62 L600.98,203.82 L601.04,205.02 L601.10,206.22 L601.15,207.42 L601.21,208.62 L601.27,209.82 L601.33,211.02 L601.39,212.22 L601.44,213.42 L601.50,214.62 L601.56,215.82 L601.62,217.02 L601.67,218.22 L601.73,219.42 L601.79,220.62 L601.85,221.82 L601.91,223.02 L601.96,224.22 L602.02,225.42 L602.08,226.62 L602.14,227.82 L602.20,229.02 L602.26,230.22 L602.31,231.41 L602.37,232.61 L602.43,233.81 L602.49,235.01 L602.55,236.21 L602.61,237.41 L602.67,238.61 L602.73,239.81 L602.78,241.01 L602.84,242.21 L602.90,243.41 L602.96,244.61 L603.02,245.81 L603.08,247.01 L603.14,248.21 L603.20,249.41 L603.26,250.61 L603.32,251.81 L603.38,253.01 L603.44,254.21 L603.50,255.41 L603.56,256.61 L603.62,257.80 L603.68,259.00 L603.74,260.20 L603.81,261.40 L603.87,262.60 L603.93,263.80 L603.99,265.00 L604.05,266.20 L604.11,267.40 L604.18,268.60 L604.24,269.80 L604.30,271.00 L604.36,272.20 L604.43,273.40 L604.49,274.60 L604.55,275.80 L604.62,276.99 L604.68,278.19 L604.75,279.39 L604.81,280.59 L604.88,281.79 L604.94,282.99 L605.01,284.19 L605.07,285.39 L605.14,286.59 L605.20,287.79 L605.27,288.99 L605.33,290.19 L605.40,291.39 L605.47,292.58 L605.53,293.78 L605.60,294.98 L605.67,296.18 L605.74,297.38 L605.81,298.58 L605.87,299.78 L605.94,300.98 L606.01,302.18 L606.08,303.38 L606.15,304.58 L606.22,305.77 L606.29,306.97 L606.36,308.17 L606.43,309.37 L606.51,310.57 L606.58,311.77 L606.65,312.97 L606.72,314.17 L606.80,315.36 L606.87,316.56 L606.94,317.76 L607.02,318.96 L607.09,320.16 L607.17,321.36 L607.24,322.56 L607.32,323.76 L607.39,324.95 L607.47,326.15 L607.55,327.35 L607.62,328.55 L607.70,329.75 L607.78,330.95 L607.86,332.15 L607.94,333.34 L608.02,334.54 L608.10,335.74 L608.18,336.94 L608.26,338.14 L608.34,339.33 L608.43,340.53 L608.51,341.73 L608.59,342.93 L608.68,344.13 L608.76,345.33 L608.85,346.52 L608.93,347.72 L609.02,348.92 L609.10,350.12 L609.19,351.31 L609.28,352.51 L609.37,353.71 L609.46,354.91 L609.55,356.11 L609.64,357.30 L609.73,358.50 L609.82,359.70 L609.92,360.90 L610.01,362.09 L610.10,363.29 L610.20,364.49 L610.30,365.68 L610.39,366.88 L610.49,368.08 L610.59,369.28 L610.69,370.47 L610.79,371.67 L610.89,372.87 L610.99,374.06 L611.09,375.26 L611.19,376.46 L611.30,377.65 L611.40,378.85 L611.51,380.05 L611.62,381.24 L611.72,382.44 L611.83,383.63 L611.94,384.83 L612.06,386.03 L612.17,387.22 L612.28,388.42 L612.40,389.61 L612.51,390.81 L612.63,392.00 L612.75,393.20 L612.86,394.39 L612.98,395.59 L613.11,396.78 L613.23,397.98 L613.35,399.17 L613.48,400.37 L613.61,401.56 L613.73,402.76 L613.86,403.95 L613.99,405.14 L614.13,406.34 L614.26,407.53 L614.40,408.72 L614.53,409.92 L614.67,411.11 L614.81,412.30 L614.95,413.49 L615.10,414.69 L615.24,415.88 L615.39,417.07 L615.54,418.26 L615.69,419.45 L615.85,420.65 L616.00,421.84 L616.16,423.03 L616.32,424.22 L616.48,425.41 L616.64,426.60 L616.81,427.79 L616.98,428.98 L617.15,430.16 L617.32,431.35 L617.50,432.54 L617.68,433.73 L617.86,434.92 L618.04,436.10 L618.23,437.29 L618.42,438.48 L618.61,439.66 L618.80,440.85 L619.00,442.03 L619.21,443.21 L619.41,444.40 L619.62,445.58 L619.83,446.76 L620.05,447.94 L620.27,449.12 L620.49,450.30 L620.72,451.48 L620.95,452.66 L621.18,453.84 L621.42,455.02 L621.67,456.19 L621.92,457.37 L622.17,458.54 L622.43,459.71 L622.69,460.89 L622.96,462.06 L623.24,463.23 L623.52,464.39 L623.80,465.56 L624.10,466.72 L624.39,467.89 L624.70,469.05 L625.01,470.21 L625.33,471.37 L625.66,472.52 L625.99,473.68 L626.33,474.83 L626.68,475.98 L627.04,477.12 L627.40,478.27 L627.78,479.41 L628.16,480.55 L628.56,481.68 L628.96,482.81 L629.37,483.94 L629.80,485.06 L630.23,486.18 L630.68,487.30 L631.14,488.41 L631.61,489.51 L632.10,490.61 L632.60,491.70 L633.11,492.79 L633.64,493.87 L634.18,494.94 L634.73,496.00 L635.31,497.06 L635.89,498.11 L636.50,499.15 L637.12,500.17 L637.76,501.19 L638.42,502.19 L639.09,503.19 L639.79,504.17 L640.50,505.13 L641.23,506.09 L641.98,507.02 L642.75,507.94 L643.54,508.85 L644.35,509.74 L645.18,510.61 L646.03,511.46 L646.89,512.29 L647.78,513.10 L648.68,513.89 L649.60,514.66 L650.54,515.41 L651.50,516.14 L652.47,516.85 L653.45,517.53 L654.45,518.20 L655.47,518.84 L656.50,519.46 L657.54,520.06 L658.59,520.64 L659.65,521.20 L660.72,521.74 L661.81,522.26 L662.90,522.77 L664.00,523.25 L665.10,523.71 L666.22,524.16 L667.34,524.59 L668.47,525.01 L669.60,525.41 L670.74,525.79 L671.88,526.16 L673.03,526.51 L674.18,526.86 L675.33,527.19 L676.49,527.50 L677.65,527.81 L678.82,528.10 L679.98,528.39 L681.15,528.66 L682.33,528.92 L683.50,529.18 L684.68,529.42 L685.85,529.66 L687.03,529.88 L688.21,530.10 L689.40,530.31 L690.58,530.52 L691.76,530.72 L692.95,530.91 L694.14,531.09 L695.32,531.27 L696.51,531.44 L697.70,531.61 L698.89,531.77 L700.08,531.93 L701.27,532.08 L702.47,532.22 L703.66,532.36 L704.85,532.50 L706.05,532.63 L707.24,532.76 L708.43,532.89 L709.63,533.01 L710.82,533.13 L712.02,533.24 L713.22,533.35 L714.41,533.46 L715.61,533.56 L716.80,533.67 L718.00,533.76 L719.20,533.86 L720.40,533.95 L721.59,534.04 L722.79,534.13 L723.99,534.22 L725.19,534.30 L726.39,534.38 L727.58,534.46 L728.78,534.54 L729.98,534.61 L731.18,534.69 L732.38,534.76 L733.58,534.83 L734.78,534.89 L735.98,534.96 L737.18,535.02 L738.38,535.09 L739.57,535.15 L740.77,535.21 L741.97,535.27 L743.17,535.32 L744.37,535.38 L745.57,535.43 L746.77,535.48 L747.97,535.54 L749.17,535.59 L750.37,535.63 L751.57,535.68 L752.77,535.73 L753.97,535.78 L755.17,535.82 L756.37,535.86 L757.57,535.91 L758.77,535.95 L759.97,535.99 L761.17,536.03 L762.37,536.07 L763.58,536.11 L764.78,536.14 L765.98,536.18 L767.18,536.22 L768.38,536.25 L769.58,536.29 L770.78,536.32 L771.98,536.35 L773.18,536.39 L774.38,536.42 L775.58,536.45 L776.78,536.48 L777.98,536.51 L779.18,536.54 L780.38,536.57 L781.58,536.59 L782.78,536.62 L783.98,536.65 L785.19,536.68 L786.39,536.70 L787.59,536.73 L788.79,536.75 L789.99,536.78 L791.19,536.80 L792.39,536.82 L793.59,536.85 L794.79,536.87 L795.99,536.89 L797.19,536.91 L798.39,536.93 L799.59,536.96 L800.80,536.98 L802.00,537.00 L803.20,537.02 L804.40,537.04 L805.60,537.05 L806.80,537.07 L808.00,537.09 L809.20,537.11 L810.40,537.13 L811.60,537.15 L812.80,537.16 L814.00,537.18 L815.21,537.20 L816.41,537.21 L817.61,537.23 L818.81,537.24 L820.01,537.26 L821.21,537.28 L822.41,537.29 L823.61,537.30 L824.81,537.32 L826.01,537.33 L827.21,537.35 L828.42,537.36 L829.62,537.37 L830.82,537.39 L832.02,537.40 L833.22,537.41 L834.42,537.43 L835.62,537.44 L836.82,537.45 L838.02,537.46 L839.22,537.48 L840.43,537.49 L841.63,537.50 L842.83,537.51 L844.03,537.52 L845.23,537.53 L846.43,537.54 L847.63,537.55 L848.83,537.56 L850.03,537.57 L851.23,537.58 L852.43,537.59 L853.64,537.60 L854.84,537.61 L856.04,537.62 L857.24,537.63 L858.44,537.64 L859.64,537.65 L860.84,537.66 L862.04,537.67 L863.24,537.68 L864.44,537.68 L865.65,537.69 L866.85,537.70 L868.05,537.71 L869.25,537.72 L870.45,537.73 L871.65,537.73 L872.85,537.74 L874.05,537.75 L875.25,537.76 L876.45,537.76 L877.65,537.77 L878.86,537.78 L880.06,537.78 L881.26,537.79 L882.46,537.80 L883.66,537.80 L884.86,537.81 L886.06,537.82 L887.26,537.82 L888.46,537.83 L889.66,537.84 L890.87,537.84 L892.07,537.85 L893.27,537.85 L894.47,537.86 L895.67,537.87 L896.87,537.87 L898.07,537.88 L899.27,537.88 L900.47,537.89 L901.67,537.89 L902.88,537.90 L904.08,537.90 L905.28,537.91 L906.48,537.92 L907.68,537.92 L908.88,537.92 L910.08,537.93 L911.28,537.93 L912.48,537.94 L913.68,537.94 L914.89,537.95 L916.09,537.95 L917.29,537.96 L918.49,537.96 L919.69,537.97 L920.89,537.97 L922.09,537.97 L923.29,537.98 L924.49,537.98 L925.69,537.99 L926.90,537.99 L928.10,538.00 L929.30,538.00 L930.50,538.00 L931.70,538.01 L932.90,538.01 L934.10,538.01 L935.30,538.02 L936.50,538.02 L937.70,538.03 L938.91,538.03 L940.11,538.03 L941.31,538.04 L942.51,538.04 L943.71,538.04 L944.91,538.05 L946.11,538.05 L947.31,538.05 L948.51,538.05 L949.71,538.06 L950.92,538.06 L952.12,538.06 L953.32,538.07 L954.52,538.07 L955.72,538.07 L956.92,538.08 L958.12,538.08 L959.32,538.08 L960.52,538.08 L961.72,538.09 L962.93,538.09 L964.13,538.09 L965.33,538.09 L966.53,538.10 L967.73,538.10 L968.93,538.10 L970.13,538.10 L971.33,538.11 L972.53,538.11 L973.73,538.11 L974.94,538.11 L976.14,538.12 L977.34,538.12 L978.54,538.12 L979.74,538.12 L980.94,538.13 L982.14,538.13 L983.34,538.13 L984.54,538.13 L985.74,538.13 L986.95,538.14 L988.15,538.14 L989.35,538.14 L990.55,538.14 L991.75,538.14 L992.95,538.15 L994.15,538.15 L995.35,538.15 L996.55,538.15 L997.75,538.15 L998.96,538.16 L1000.16,538.16 L1001.36,538.16 L1002.56,538.16 L1003.76,538.16 L1004.96,538.16 L1006.16,538.17 L1007.36,538.17 L1008.56,538.17 L1009.76,538.17 L1010.97,538.17 L1012.17,538.17 L1013.37,538.18 L1014.57,538.18 L1015.77,538.18 L1016.97,538.18 L1018.17,538.18 L1019.37,538.18 L1020.57,538.18 L1021.77,538.19 L1022.98,538.19 L1024.18,538.19 L1025.38,538.19 L1026.58,538.19 L1027.78,538.19 L1028.98,538.19 L1030.18,538.20 L1031.38,538.20 L1032.58,538.20 L1033.78,538.20 L1034.99,538.20 L1036.19,538.20 L1037.39,538.20 L1038.59,538.20 L1039.79,538.21 L1040.99,538.21 L1042.19,538.21 L1043.39,538.21 L1044.59,538.21 L1045.79,538.21 L1047.00,538.21 L1048.20,538.21 L1049.40,538.21 L1050.60,538.21 L1051.80,538.22 L1053.00,538.22" fill="none" stroke="#4a7ebb" stroke-width="4.8" stroke-linejoin="round"/>
<path d="M131.00,533.24 L132.20,533.20 L133.40,533.16 L134.60,533.12 L135.81,533.08 L137.01,533.05 L138.21,533.01 L139.41,532.97 L140.61,532.93 L141.81,532.89 L143.01,532.85 L144.22,532.81 L145.42,532.77 L146.62,532.73 L147.82,532.69 L149.02,532.65 L150.22,532.61 L151.42,532.57 L152.63,532.53 L153.83,532.48 L155.03,532.44 L156.23,532.40 L157.43,532.36 L158.63,532.31 L159.83,532.27 L161.03,532.23 L162.24,532.18 L163.44,532.14 L164.64,532.10 L165.84,532.05 L167.04,532.01 L168.24,531.96 L169.44,531.91 L170.64,531.87 L171.84,531.82 L173.05,531.78 L174.25,531.73 L175.45,531.68 L176.65,531.64 L177.85,531.59 L179.05,531.54 L180.25,531.49 L181.45,531.44 L182.65,531.39 L183.86,531.34 L185.06,531.29 L186.26,531.24 L187.46,531.19 L188.66,531.14 L189.86,531.09 L191.06,531.04 L192.26,530.99 L193.46,530.94 L194.66,530.89 L195.87,530.83 L197.07,530.78 L198.27,530.73 L199.47,530.67 L200.67,530.62 L201.87,530.57 L203.07,530.51 L204.27,530.46 L205.47,530.40 L206.67,530.34 L207.87,530.29 L209.07,530.23 L210.27,530.17 L211.48,530.12 L212.68,530.06 L213.88,530.00 L215.08,529.94 L216.28,529.88 L217.48,529.82 L218.68,529.76 L219.88,529.70 L221.08,529.64 L222.28,529.58 L223.48,529.52 L224.68,529.46 L225.88,529.40 L227.08,529.33 L228.28,529.27 L229.48,529.21 L230.68,529.14 L231.88,529.08 L233.08,529.01 L234.28,528.95 L235.48,528.88 L236.68,528.82 L237.88,528.75 L239.08,528.68 L240.28,528.61 L241.48,528.54 L242.69,528.48 L243.89,528.41 L245.09,528.34 L246.29,528.27 L247.49,528.20 L248.68,528.13 L249.88,528.05 L251.08,527.98 L252.28,527.91 L253.48,527.84 L254.68,527.76 L255.88,527.69 L257.08,527.61 L258.28,527.54 L259.48,527.46 L260.68,527.38 L261.88,527.31 L263.08,527.23 L264.28,527.15 L265.48,527.07 L266.68,526.99 L267.88,526.91 L269.08,526.83 L270.28,526.75 L271.48,526.67 L272.68,526.59 L273.88,526.51 L275.07,526.42 L276.27,526.34 L277.47,526.25 L278.67,526.17 L279.87,526.08 L281.07,525.99 L282.27,525.91 L283.47,525.82 L284.67,525.73 L285.86,525.64 L287.06,525.55 L288.26,525.46 L289.46,525.37 L290.66,525.28 L291.86,525.18 L293.06,525.09 L294.25,525.00 L295.45,524.90 L296.65,524.80 L297.85,524.71 L299.05,524.61 L300.25,524.51 L301.44,524.41 L302.64,524.31 L303.84,524.21 L305.04,524.11 L306.23,524.01 L307.43,523.91 L308.63,523.80 L309.83,523.70 L311.02,523.59 L312.22,523.49 L313.42,523.38 L314.62,523.27 L315.81,523.16 L317.01,523.05 L318.21,522.94 L319.40,522.83 L320.60,522.72 L321.80,522.61 L322.99,522.49 L324.19,522.38 L325.39,522.26 L326.58,522.14 L327.78,522.03 L328.98,521.91 L330.17,521.79 L331.37,521.66 L332.56,521.54 L333.76,521.42 L334.95,521.29 L336.15,521.17 L337.35,521.04 L338.54,520.92 L339.74,520.79 L340.93,520.66 L342.13,520.53 L343.32,520.39 L344.52,520.26 L345.71,520.12 L346.90,519.99 L348.10,519.85 L349.29,519.71 L350.49,519.57 L351.68,519.43 L352.87,519.29 L354.07,519.15 L355.26,519.00 L356.45,518.86 L357.65,518.71 L358.84,518.56 L360.03,518.41 L361.22,518.26 L362.42,518.11 L363.61,517.95 L364.80,517.80 L365.99,517.64 L367.18,517.48 L368.37,517.32 L369.57,517.16 L370.76,516.99 L371.95,516.83 L373.14,516.66 L374.33,516.49 L375.52,516.32 L376.71,516.15 L377.90,515.98 L379.09,515.80 L380.28,515.63 L381.46,515.45 L382.65,515.27 L383.84,515.08 L385.03,514.90 L386.22,514.71 L387.40,514.53 L388.59,514.34 L389.78,514.14 L390.96,513.95 L392.15,513.75 L393.33,513.55 L394.52,513.35 L395.70,513.15 L396.89,512.95 L398.07,512.74 L399.26,512.53 L400.44,512.32 L401.62,512.11 L402.81,511.89 L403.99,511.67 L405.17,511.45 L406.35,511.23 L407.53,511.00 L408.71,510.77 L409.89,510.54 L411.07,510.31 L412.25,510.07 L413.43,509.83 L414.60,509.59 L415.78,509.34 L416.96,509.10 L418.13,508.85 L419.31,508.59 L420.48,508.34 L421.65,508.08 L422.83,507.81 L424.00,507.55 L425.17,507.28 L426.34,507.01 L427.51,506.73 L428.68,506.45 L429.85,506.17 L431.02,505.88 L432.18,505.59 L433.35,505.30 L434.51,505.00 L435.68,504.70 L436.84,504.39 L438.00,504.09 L439.16,503.77 L440.32,503.46 L441.48,503.14 L442.64,502.81 L443.79,502.48 L444.95,502.15 L446.10,501.81 L447.25,501.47 L448.41,501.12 L449.55,500.77 L450.70,500.41 L451.85,500.05 L452.99,499.68 L454.14,499.31 L455.28,498.93 L456.42,498.55 L457.56,498.16 L458.69,497.77 L459.83,497.37 L460.96,496.97 L462.09,496.56 L463.22,496.14 L464.34,495.72 L465.47,495.30 L466.59,494.86 L467.71,494.42 L468.82,493.98 L469.94,493.53 L471.05,493.07 L472.16,492.60 L473.26,492.13 L474.36,491.65 L475.46,491.17 L476.56,490.68 L477.65,490.18 L478.74,489.67 L479.83,489.16 L480.91,488.64 L481.99,488.11 L483.07,487.57 L484.14,487.03 L485.21,486.47 L486.27,485.92 L487.33,485.35 L488.39,484.77 L489.44,484.19 L490.48,483.59 L491.53,482.99 L492.56,482.39 L493.59,481.77 L494.62,481.14 L495.64,480.51 L496.66,479.86 L497.66,479.21 L498.67,478.55 L499.67,477.88 L500.66,477.20 L501.64,476.51 L502.62,475.81 L503.60,475.11 L504.56,474.39 L505.52,473.67 L506.47,472.94 L507.42,472.19 L508.36,471.44 L509.29,470.68 L510.21,469.91 L511.13,469.13 L512.04,468.35 L512.94,467.55 L513.83,466.74 L514.71,465.93 L515.59,465.11 L516.46,464.28 L517.32,463.44 L518.17,462.59 L519.01,461.73 L519.84,460.86 L520.67,459.99 L521.49,459.11 L522.29,458.22 L523.09,457.32 L523.88,456.42 L524.67,455.50 L525.44,454.58 L526.20,453.65 L526.96,452.72 L527.70,451.77 L528.44,450.82 L529.17,449.87 L529.89,448.90 L530.60,447.94 L531.30,446.96 L531.99,445.98 L532.67,444.99 L533.35,443.99 L534.02,442.99 L534.67,441.99 L535.32,440.98 L535.96,439.96 L536.60,438.94 L537.22,437.91 L537.84,436.88 L538.45,435.84 L539.05,434.80 L539.64,433.75 L540.22,432.70 L540.80,431.65 L541.37,430.59 L541.93,429.53 L542.48,428.46 L543.03,427.39 L543.57,426.31 L544.10,425.24 L544.62,424.15 L545.14,423.07 L545.65,421.98 L546.16,420.89 L546.66,419.80 L547.15,418.70 L547.63,417.60 L548.11,416.50 L548.58,415.39 L549.05,414.28 L549.51,413.17 L549.97,412.06 L550.42,410.95 L550.86,409.83 L551.30,408.71 L551.73,407.59 L552.16,406.47 L552.58,405.34 L553.00,404.21 L553.41,403.08 L553.82,401.95 L554.22,400.82 L554.62,399.69 L555.01,398.55 L555.40,397.41 L555.79,396.27 L556.17,395.13 L556.54,393.99 L556.92,392.85 L557.28,391.71 L557.65,390.56 L558.01,389.41 L558.37,388.27 L558.72,387.12 L559.07,385.97 L559.42,384.82 L559.76,383.66 L560.10,382.51 L560.44,381.36 L560.77,380.20 L561.10,379.05 L561.43,377.89 L561.75,376.73 L562.07,375.57 L562.39,374.41 L562.71,373.26 L563.02,372.10 L563.34,370.93 L563.65,369.77 L563.95,368.61 L564.26,367.45 L564.56,366.29 L564.86,365.12 L565.16,363.96 L565.46,362.79 L565.76,361.63 L566.05,360.46 L566.35,359.30 L566.64,358.13 L566.93,356.96 L567.22,355.80 L567.51,354.63 L567.79,353.46 L568.08,352.30 L568.37,351.13 L568.65,349.96 L568.94,348.79 L569.22,347.63 L569.51,346.46 L569.79,345.29 L570.08,344.12 L570.36,342.95 L570.65,341.79 L570.94,340.62 L571.22,339.45 L571.51,338.29 L571.81,337.12 L572.10,335.96 L572.40,334.79 L572.70,333.63 L573.00,332.46 L573.31,331.30 L573.63,330.14 L573.95,328.98 L574.27,327.83 L574.61,326.67 L574.96,325.52 L575.32,324.38 L575.70,323.24 L576.10,322.10 L576.53,320.98 L577.01,319.88 L577.56,318.81 L578.23,317.82 L579.21,317.15 L580.24,317.67 L580.85,318.69 L581.30,319.81 L581.65,320.96 L581.95,322.12 L582.22,323.30 L582.46,324.47 L582.67,325.66 L582.87,326.84 L583.06,328.03 L583.23,329.22 L583.40,330.41 L583.55,331.60 L583.70,332.79 L583.84,333.99 L583.98,335.18 L584.11,336.38 L584.24,337.57 L584.36,338.77 L584.47,339.96 L584.59,341.16 L584.70,342.36 L584.80,343.55 L584.91,344.75 L585.01,345.95 L585.11,347.15 L585.20,348.35 L585.30,349.54 L585.39,350.74 L585.48,351.94 L585.57,353.14 L585.66,354.34 L585.74,355.54 L585.82,356.74 L585.90,357.94 L585.98,359.14 L586.06,360.34 L586.14,361.54 L586.22,362.74 L586.29,363.93 L586.37,365.13 L586.44,366.33 L586.51,367.53 L586.58,368.73 L586.65,369.93 L586.72,371.13 L586.79,372.33 L586.85,373.53 L586.92,374.73 L586.98,375.94 L587.05,377.14 L587.11,378.34 L587.17,379.54 L587.24,380.74 L587.30,381.94 L587.36,383.14 L587.42,384.34 L587.48,385.54 L587.54,386.74 L587.60,387.94 L587.65,389.14 L587.71,390.34 L587.77,391.54 L587.82,392.74 L587.88,393.94 L587.94,395.14 L587.99,396.34 L588.04,397.55 L588.10,398.75 L588.15,399.95 L588.20,401.15 L588.26,402.35 L588.31,403.55 L588.36,404.75 L588.41,405.95 L588.46,407.15 L588.51,408.35 L588.56,409.55 L588.61,410.76 L588.66,411.96 L588.71,413.16 L588.76,414.36 L588.81,415.56 L588.86,416.76 L588.91,417.96 L588.95,419.16 L589.00,420.36 L589.05,421.57 L589.10,422.77 L589.14,423.97 L589.19,425.17 L589.24,426.37 L589.28,427.57 L589.33,428.77 L589.37,429.97 L589.42,431.17 L589.46,432.38 L589.51,433.58 L589.55,434.78 L589.60,435.98 L589.64,437.18 L589.68,438.38 L589.73,439.58 L589.77,440.78 L589.81,441.99 L589.86,443.19 L589.90,444.39 L589.94,445.59 L589.99,446.79 L590.03,447.99 L590.07,449.19 L590.11,450.39 L590.15,451.60 L590.20,452.80 L590.24,454.00 L590.28,455.20 L590.32,456.40 L590.36,457.60 L590.40,458.80 L590.44,460.01 L590.48,461.21 L590.52,462.41 L590.57,463.61 L590.61,464.81 L590.65,466.01 L590.69,467.21 L590.73,468.41 L590.77,469.62 L590.81,470.82 L590.85,472.02 L590.88,473.22 L590.92,474.42 L590.96,475.62 L591.00,476.82 L591.04,478.03 L591.08,479.23 L591.12,480.43 L591.16,481.63 L591.20,482.83 L591.24,484.03 L591.28,485.23 L591.31,486.44 L591.35,487.64 L591.39,488.84 L591.43,490.04 L591.47,491.24 L591.51,492.44 L591.54,493.64 L591.58,494.85 L591.62,496.05 L591.66,497.25 L591.70,498.45 L591.73,499.65 L591.77,500.85 L591.81,502.05 L591.85,503.26 L591.88,504.46 L591.92,505.66 L591.96,506.86 L592.00,508.06 L592.03,509.26 L592.07,510.46 L592.11,511.67 L592.15,512.87 L592.18,514.07 L592.22,515.27 L592.26,516.47 L592.29,517.67 L592.33,518.87 L592.37,520.08 L592.41,521.28 L592.44,522.48 L592.48,523.68 L592.52,524.88 L592.55,526.08 L592.59,527.29 L592.63,528.49 L592.66,529.69 L592.70,530.89 L592.74,532.09 L592.78,533.29 L592.81,534.49 L592.85,535.70 L592.89,536.90 L592.92,538.10 L592.96,539.30" fill="none" stroke="#be4b48" stroke-width="5" stroke-linejoin="round"/>
<line x1="592.1" y1="17.8" x2="594.9" y2="551.5" stroke="#808080" stroke-width="2.2" stroke-dasharray="7.7 6.2"/>
<text x="123.4" y="581" textLength="15.7" lengthAdjust="spacingAndGlyphs" class="num">1</text>
<text x="576.8" y="581" textLength="31.3" lengthAdjust="spacingAndGlyphs" class="num">10</text>
<text x="1029" y="581" textLength="47" lengthAdjust="spacingAndGlyphs" class="num">100</text>
<g fill="#fff">
<rect x="123.5" y="577.6" width="7.0" height="3.8"/><rect x="133.0" y="577.6" width="6.5" height="3.8"/>
<rect x="577.5" y="577.6" width="6.5" height="3.8"/><rect x="586.5" y="577.6" width="6.0" height="3.8"/>
<rect x="1029.5" y="577.6" width="6.5" height="3.8"/><rect x="1038.5" y="577.6" width="6.3" height="3.8"/>
<rect x="49.5" y="470.6" width="6.0" height="3.8"/><rect x="58.0" y="470.6" width="5.3" height="3.8"/>
</g>
<text x="602.75" y="610" text-anchor="middle" class="ttl">FREQUENCY (MHz)</text>
<text transform="translate(29.3,300.1) rotate(-90)" x="-95.4" textLength="190.8" lengthAdjust="spacingAndGlyphs" class="ttl">IMPEDANCE (&#937;)</text>
<line x1="639.2" y1="39.4" x2="607" y2="53.5" stroke="#4a7ebb" stroke-width="2.4"/>
<polygon points="597.4,58.9 607.6,46.2 613.5,59.4" fill="#4a7ebb"/>
<text x="653.8" y="45.8" textLength="38" lengthAdjust="spacingAndGlyphs" style="font-family:'Liberation Sans',sans-serif;font-size:25px;fill:#000">SRF</text>
<text x="664.3" y="438.6" class="lbl" style="font-size:31px;fill:#000;stroke:#000;stroke-width:0.4">Z</text>
<text x="664" y="519" class="lbl" style="font-size:30px;fill:#33609e">R</text>
<text x="597.3" y="529.2" class="lbl" style="font-size:31px;fill:#c00000;stroke:#c00000;stroke-width:0.4">X</text>
<text x="619.3" y="534.6" textLength="11.6" lengthAdjust="spacingAndGlyphs" class="lbl" style="font-size:22.5px;fill:#c00000;stroke:#c00000;stroke-width:0.3">L</text>
</svg>
</body></html>
